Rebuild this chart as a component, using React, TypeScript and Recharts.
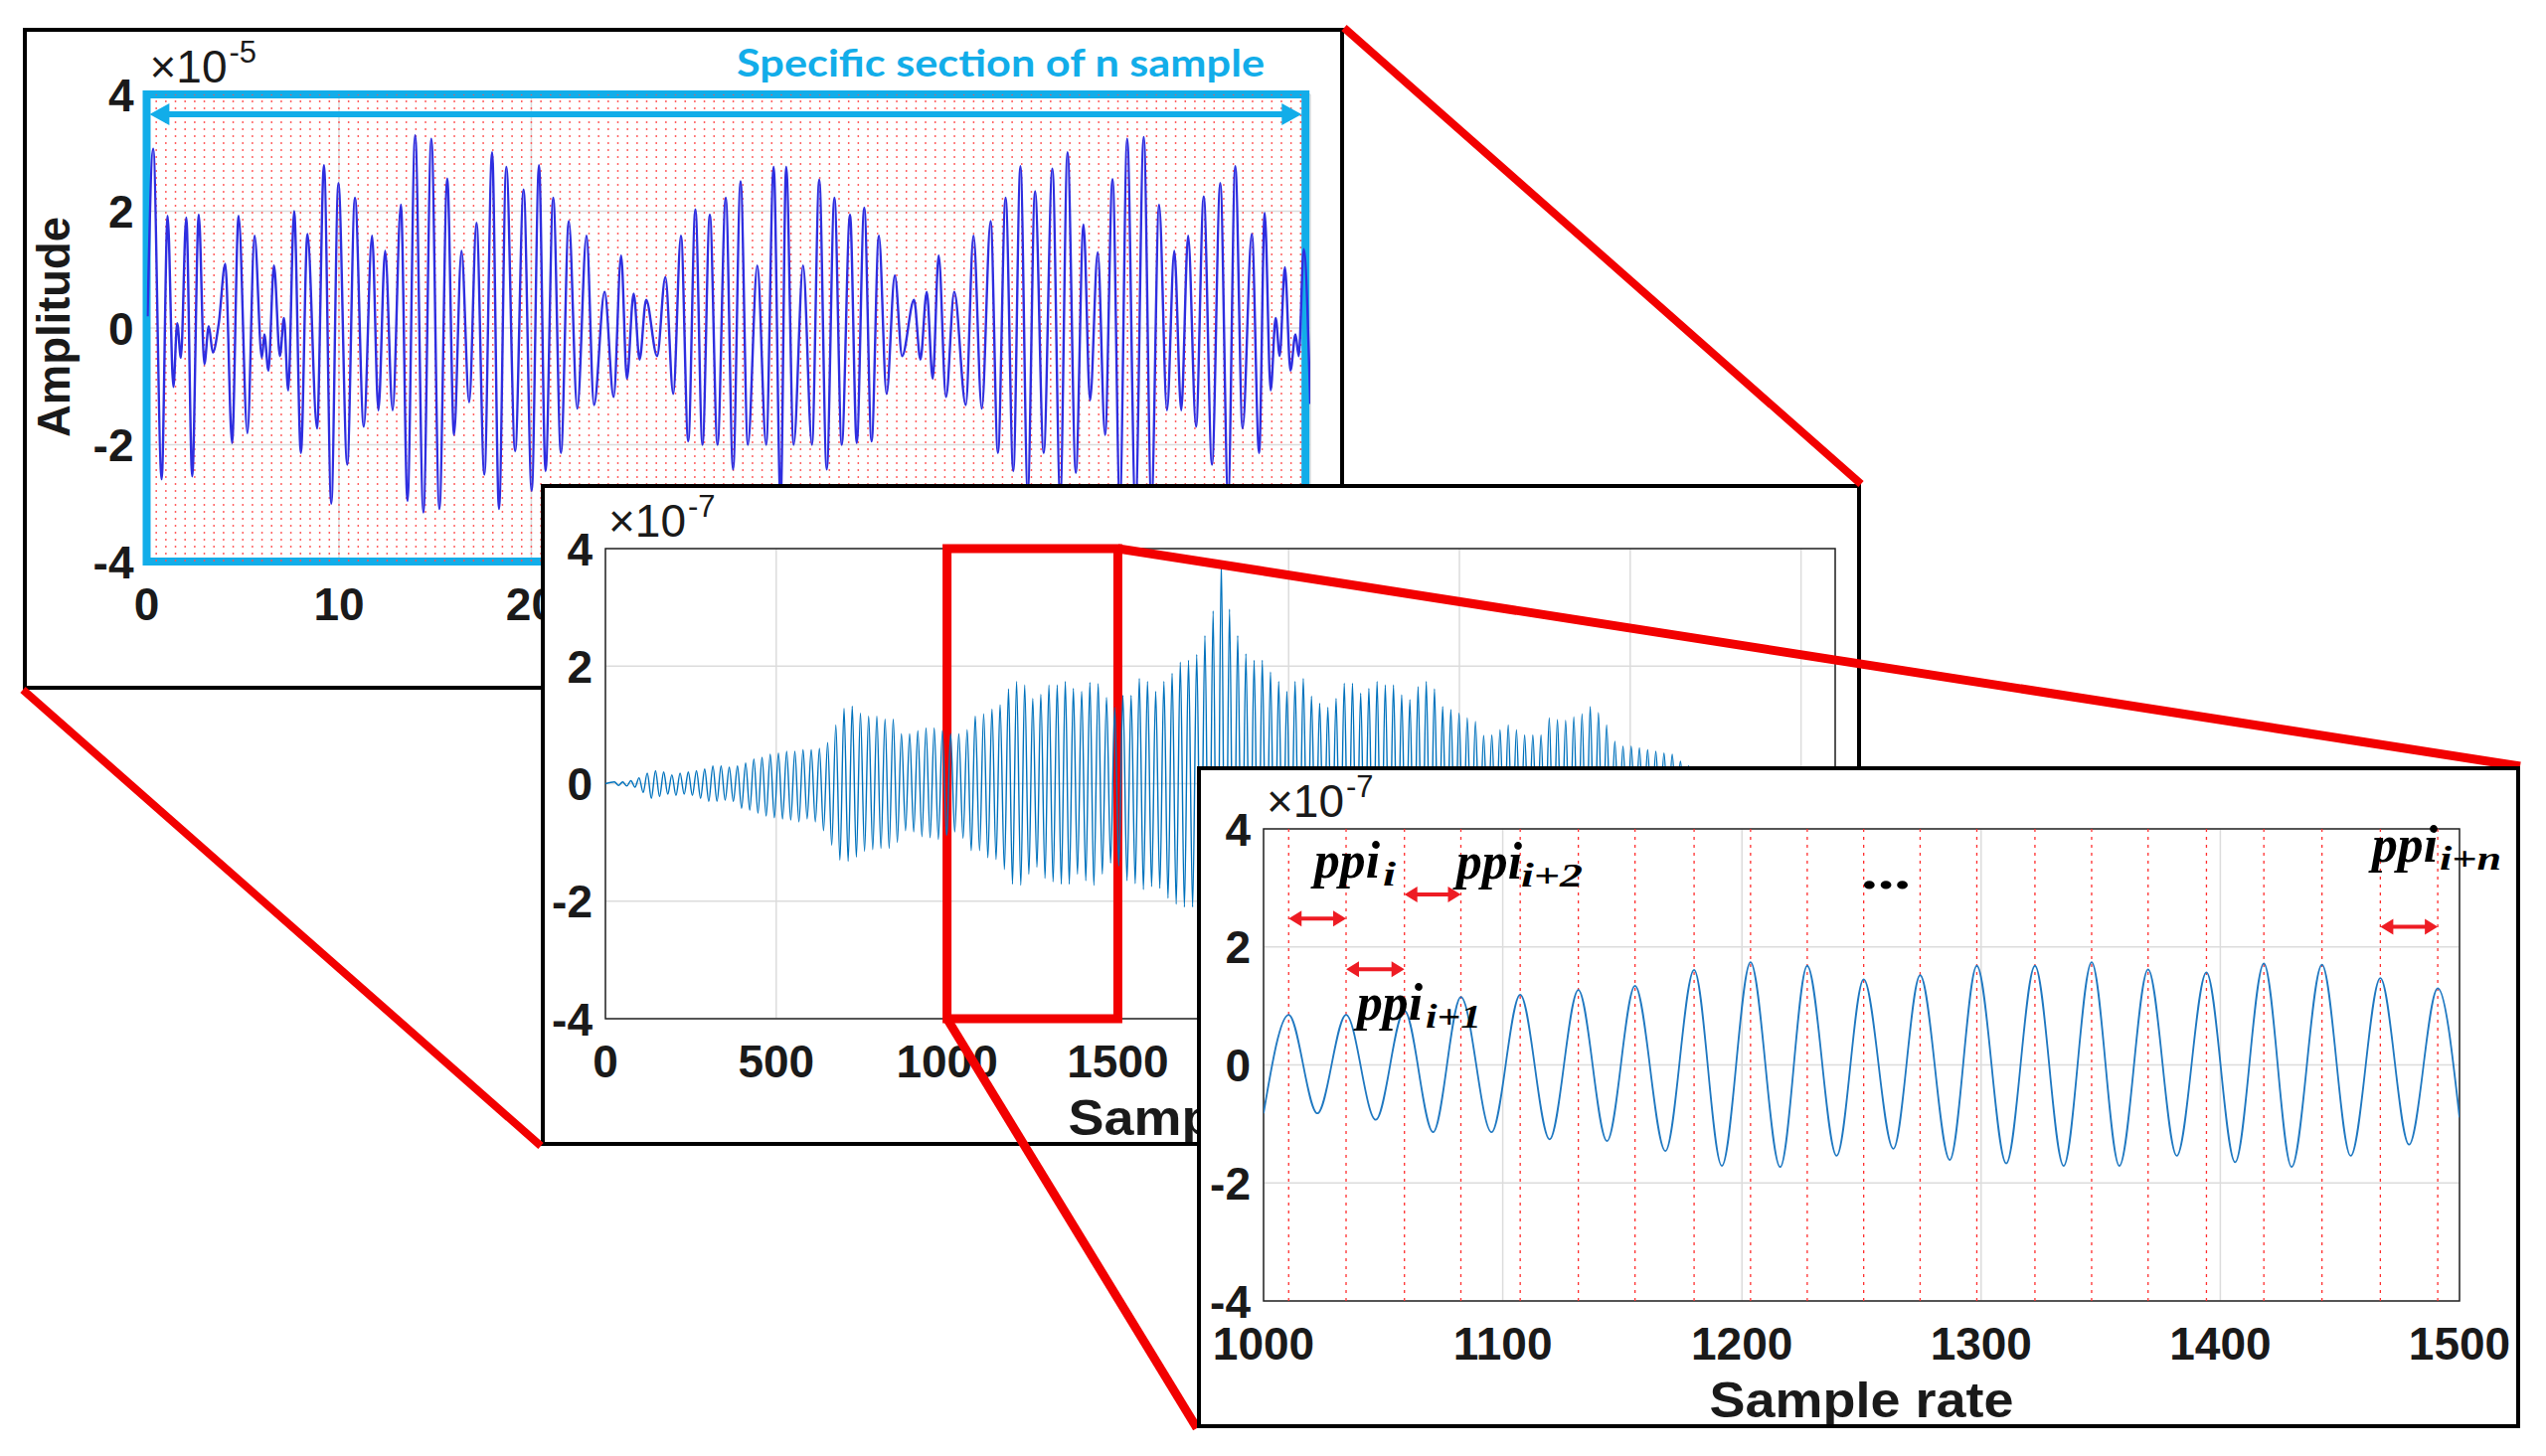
import React from 'react';
import { LineChart, Line, XAxis, YAxis, CartesianGrid, ReferenceLine, ReferenceArea } from 'recharts';

const SANS = '"Liberation Sans", Arial, Helvetica, sans-serif';
const SERIF = '"Liberation Serif", "Times New Roman", serif';
const INK = '#1a1a1a';
const GRID = '#dcdcdc';
const RED = '#f20000';
const CYAN = '#12ade9';
const TICK_FS = 46;

const AMP_TICKS = [-4, -2, 0, 2, 4];

// ---- specific section of n sample (x10^-5)
const SEC_X = [
  0.05, 0.34, 0.78, 1.09, 1.39, 1.59, 1.78, 2.06, 2.37, 2.71,
  3.0, 3.23, 3.44, 3.75, 4.09, 4.44, 4.78, 5.24, 5.61, 5.99,
  6.12, 6.33, 6.62, 6.93, 7.14, 7.36, 7.67, 8.02, 8.36, 8.86,
  9.22, 9.6, 9.97, 10.43, 10.83, 11.29, 11.72, 12.05, 12.4, 12.79,
  13.22, 13.56, 13.96, 14.39, 14.8, 15.22, 15.63, 15.98, 16.37, 16.77,
  17.15, 17.56, 17.96, 18.32, 18.7, 19.16, 19.6, 20.02, 20.4, 20.74,
  21.14, 21.54, 21.95, 22.39, 22.87, 23.26, 23.81, 24.28, 24.67, 24.97,
  25.32, 25.63, 25.97, 26.54, 26.97, 27.38, 27.78, 28.16, 28.53, 28.9,
  29.28, 29.68, 30.11, 30.49, 30.88, 31.26, 31.75, 32.21, 32.6, 32.96,
  33.25, 33.64, 34.13, 34.59, 34.97, 35.36, 35.76, 36.14, 36.57, 36.92,
  37.31, 37.69, 38.07, 38.47, 38.9, 39.28, 39.9, 40.23, 40.56, 40.87,
  41.18, 41.56, 41.99, 42.59, 42.99, 43.42, 43.88, 44.26, 44.66, 45.06,
  45.43, 45.81, 46.19, 46.64, 47.09, 47.5, 47.88, 48.31, 48.71, 49.05,
  49.45, 49.83, 50.22, 50.6, 50.98, 51.41, 51.84, 52.24, 52.64, 53.05,
  53.43, 53.79, 54.15, 54.56, 54.96, 55.39, 55.82, 56.23, 56.6, 56.98,
  57.46, 57.84, 58.13, 58.44, 58.7, 58.91, 59.18, 59.47, 59.73, 59.9,
  60.16, 60.5,
];
const SEC_Y = [
  0.2, 3.07, -2.59, 1.92, -1.01, 0.08, -0.51, 1.89, -2.54, 1.94,
  -0.62, 0.03, -0.42, 0.08, 1.1, -1.97, 1.92, -1.8, 1.58, -0.51,
  -0.11, -0.73, 1.07, -0.48, 0.17, -1.07, 2.0, -2.14, 1.61, -1.72,
  2.79, -3.01, 2.48, -2.34, 2.23, -1.69, 1.58, -1.41, 1.32, -1.41,
  2.11, -2.96, 3.3, -3.16, 3.24, -3.1, 2.56, -1.83, 1.32, -1.27,
  1.8, -2.51, 3.01, -3.1, 2.76, -2.11, 2.37, -2.79, 2.79, -2.45,
  2.23, -2.14, 1.83, -1.38, 1.58, -1.32, 0.62, -1.18, 1.24, -0.87,
  0.59, -0.54, 0.48, -0.48, 0.87, -1.13, 1.58, -1.94, 2.03, -2.0,
  1.94, -2.0, 2.23, -2.42, 2.51, -2.0, 1.07, -2.0, 2.76, -3.0,
  2.76, -2.0, 1.07, -2.0, 2.54, -2.42, 2.23, -2.0, 1.94, -1.97,
  2.06, -1.94, 1.58, -1.13, 0.9, -0.48, 0.48, -0.54, 0.62, -0.87,
  1.24, -1.18, 0.62, -1.32, 1.58, -1.38, 1.83, -2.14, 2.23, -2.45,
  2.77, -2.8, 2.34, -2.14, 2.73, -2.9, 3.01, -2.48, 1.77, -1.24,
  1.3, -1.83, 2.55, -3.0, 3.24, -3.1, 3.27, -3.0, 2.11, -1.41,
  1.32, -1.41, 1.58, -1.69, 2.25, -2.34, 2.48, -2.9, 2.77, -1.72,
  1.61, -2.14, 1.97, -1.07, 0.17, -0.48, 1.04, -0.73, -0.11, -0.48,
  1.35, -1.3,
];
// 30..60 sit under the second panel, only the first ones show
const SEC_TICKS = [0, 10, 20];
const SEC_MARK_STEP = 0.5; // red dotted sample markers

// ---- whole record (x10^-7), one cycle every ~24 samples
const REC_PERIOD = 24;
const REC_EARLY_PEAK0 = 26.5;
const REC_EARLY_PEAKS = [
  0.03, 0.03, 0.05, 0.1, 0.18, 0.22, 0.2, 0.15, 0.18, 0.2,
  0.22, 0.25, 0.3, 0.3, 0.28, 0.3, 0.35, 0.42, 0.45, 0.5,
  0.52, 0.55, 0.55, 0.58, 0.58, 0.6, 0.7, 1.0, 1.28, 1.32,
  1.2, 1.15, 1.15, 1.1, 1.1, 0.85, 0.85, 0.9, 0.95, 0.95,
  0.9,
];
const REC_EARLY_TROUGH0 = 38.5;
const REC_EARLY_TROUGHS = [
  -0.03, -0.04, -0.06, -0.15, -0.25, -0.22, -0.18, -0.2, -0.18, -0.2,
  -0.25, -0.3, -0.3, -0.28, -0.3, -0.42, -0.45, -0.5, -0.55, -0.58,
  -0.6, -0.62, -0.65, -0.6, -0.65, -0.8, -1.05, -1.3, -1.32, -1.25,
  -1.15, -1.12, -1.1, -1.1, -1.0, -0.8, -0.82, -0.9, -0.92, -0.95,
  -0.88,
];
const REC_LATE_TROUGH0 = 1502.9;
const REC_LATE_TROUGHS = [
  -1.4, -1.65, -1.7, -1.8, -1.75, -1.78, -1.95, -2.05, -2.1, -2.1,
  -2.3, -2.7, -3.3, -3.3, -2.7, -2.3, -2.1, -2.05, -1.95, -1.8,
  -1.6, -1.65, -1.75, -1.6, -1.4, -1.3, -1.4, -1.6, -1.7, -1.6,
  -1.58, -1.7, -1.7, -1.66, -1.58, -1.45, -1.55, -1.7, -1.65, -1.45,
  -1.28, -1.22, -1.15, -1.08, -0.95, -0.82, -0.88, -0.96, -0.96, -0.88,
  -0.83, -0.83, -0.98, -1.1, -1.08, -1.1, -1.16, -1.25, -1.26, -1.1,
  -0.85, -0.68, -0.64, -0.62, -0.6, -0.56, -0.53, -0.51, -0.44, -0.34,
  -0.28, -0.22, -0.18, -0.14, -0.11, -0.09, -0.07, -0.05, -0.04, -0.03,
  -0.03, -0.02, -0.02, -0.02, -0.01, -0.01, -0.01, -0.01,
];
const REC_LATE_PEAK0 = 1514.9;
const REC_LATE_PEAKS = [
  1.5, 1.5, 1.79, 1.74, 1.57, 1.74, 1.88, 2.07, 2.1, 2.2,
  2.52, 2.94, 3.78, 2.97, 2.52, 2.21, 2.1, 2.1, 1.9, 1.74,
  1.57, 1.74, 1.79, 1.49, 1.37, 1.3, 1.45, 1.71, 1.71, 1.54,
  1.62, 1.74, 1.68, 1.68, 1.51, 1.43, 1.65, 1.74, 1.61, 1.31,
  1.26, 1.2, 1.12, 1.06, 0.82, 0.83, 0.92, 1.0, 0.92, 0.83,
  0.83, 0.83, 1.12, 1.09, 1.08, 1.14, 1.19, 1.31, 1.21, 1.0,
  0.72, 0.64, 0.64, 0.61, 0.58, 0.55, 0.52, 0.5, 0.38, 0.3,
  0.25, 0.2, 0.16, 0.12, 0.1, 0.08, 0.06, 0.05, 0.04, 0.03,
  0.03, 0.02, 0.02, 0.02, 0.01, 0.01, 0.01,
];
const REC_TICKS = [0, 500, 1000, 1500, 2000, 2500, 3000, 3500];

// ---- zoom 1000..1500 (x10^-7), extrema of the waveform
const ZOOM_X = [
  1000, 1010.5, 1022.5, 1034.5, 1046.9, 1058.9, 1070.9, 1082.5, 1095.3, 1107.3,
  1119.6, 1131.6, 1143.6, 1155.3, 1168, 1180, 1191.6, 1203.6, 1216, 1227.3,
  1239.6, 1250.9, 1263.3, 1274.5, 1286.9, 1298.2, 1310.5, 1322.5, 1334.5, 1346.2,
  1357.8, 1369.8, 1381.8, 1394.2, 1406.2, 1418.2, 1429.8, 1442.5, 1454.5, 1466.9,
  1478.9, 1490.9, 1500,
];
const ZOOM_Y = [
  -0.82, 0.85, -0.82, 0.85, -0.93, 0.92, -1.14, 1.15, -1.14, 1.19,
  -1.26, 1.27, -1.29, 1.34, -1.46, 1.61, -1.71, 1.74, -1.73, 1.68,
  -1.54, 1.45, -1.42, 1.52, -1.61, 1.68, -1.67, 1.68, -1.71, 1.74,
  -1.71, 1.62, -1.54, 1.57, -1.65, 1.72, -1.73, 1.7, -1.54, 1.47,
  -1.35, 1.3, -0.89,
];
const ZOOM_TICKS = [1000, 1100, 1200, 1300, 1400, 1500];
const PPI_START = [0, 1, 2, 19]; // index of the peak where each arrow starts
const PPI_LEVEL = [2.48, 1.62, 2.89, 2.34];

const xy = (xs: number[], ys: number[]) => xs.map((x, i) => ({ x, y: ys[i] }));
const spaced = (x0: number, ys: number[]) => ys.map((y, i) => ({ x: x0 + i * REC_PERIOD, y }));

const secData = xy(SEC_X, SEC_Y);
const zoomData = xy(ZOOM_X, ZOOM_Y);
const recData = [
  { x: 0, y: 0 },
  ...spaced(REC_EARLY_PEAK0, REC_EARLY_PEAKS),
  ...spaced(REC_EARLY_TROUGH0, REC_EARLY_TROUGHS),
  ...zoomData,
  ...spaced(REC_LATE_TROUGH0, REC_LATE_TROUGHS),
  ...spaced(REC_LATE_PEAK0, REC_LATE_PEAKS),
].sort((a, b) => a.x - b.x);

const peakX = ZOOM_X.filter((_, i) => ZOOM_Y[i] > 0);
const secMarks = Array.from({ length: Math.floor(60.2 / SEC_MARK_STEP) }, (_, i) => (i + 1) * SEC_MARK_STEP);

type Spec = { left: number; top: number; width: number; height: number; pl: number; pt: number; pr: number; pb: number };
const P1: Spec = { left: 23, top: 28, width: 1329, height: 666, pl: 124.5, pt: 67, pr: 1295, pb: 537 };
const P2: Spec = { left: 544, top: 487, width: 1328, height: 666, pl: 65, pt: 65, pr: 1302, pb: 538 };
const P3: Spec = { left: 1204, top: 771, width: 1331, height: 666, pl: 67, pt: 63, pr: 1270, pb: 538 };

function XTick(props: any) {
  const { x, y, payload } = props;
  return (
    <text x={x} y={y + 59} textAnchor="middle" fontFamily={SANS} fontWeight={700} fontSize={TICK_FS} fill={INK}>
      {payload.value}
    </text>
  );
}

function YTick(props: any) {
  const { x, y, payload } = props;
  return (
    <text x={x - 13} y={y + 16.5} textAnchor="end" fontFamily={SANS} fontWeight={700} fontSize={TICK_FS} fill={INK}>
      {payload.value}
    </text>
  );
}

const doubleArrow = (color: string, w: number, head: number, half: number) => (p: any) => {
  const a = Math.min(p.x1, p.x2);
  const b = Math.max(p.x1, p.x2);
  const y = p.y1;
  return (
    <g>
      <line x1={a + head * 0.8} y1={y} x2={b - head * 0.8} y2={y} stroke={color} strokeWidth={w} />
      <path d={`M${a},${y} L${a + head},${y - half} L${a + head},${y + half} Z`} fill={color} />
      <path d={`M${b},${y} L${b - head},${y - half} L${b - head},${y + half} Z`} fill={color} />
    </g>
  );
};

function Frame({ spec, z, children }: { spec: Spec; z: number; children: React.ReactNode }) {
  return (
    <div style={{ position: 'absolute', left: spec.left, top: spec.top, width: spec.width, height: spec.height, background: '#fff', zIndex: z }}>
      {children}
      <div style={{ position: 'absolute', inset: 0, border: '4px solid #000', boxSizing: 'border-box', pointerEvents: 'none' }} />
    </div>
  );
}

function Chart({ spec, data, domain, ticks, children }: { spec: Spec; data: any[]; domain: number[]; ticks: number[]; children: React.ReactNode }) {
  return (
    <div style={{ position: 'absolute', left: 0, top: 0 }}>
      <LineChart width={spec.width} height={spec.height} data={data}
        margin={{ top: spec.pt, right: spec.width - spec.pr, bottom: spec.height - spec.pb - 1, left: spec.pl - 1 }}>
        <CartesianGrid stroke={GRID} strokeWidth={1.5} />
        <XAxis type="number" dataKey="x" domain={domain} ticks={ticks} interval={0} allowDataOverflow height={1}
          tickSize={0} tickMargin={0} tickLine={false} axisLine={false} tick={(p: any) => <XTick {...p} />} />
        <YAxis type="number" dataKey="y" domain={[-4, 4]} ticks={AMP_TICKS} interval={0} allowDataOverflow width={1}
          tickSize={0} tickMargin={0} tickLine={false} axisLine={false} tick={(p: any) => <YTick {...p} />} />
        {children}
      </LineChart>
    </div>
  );
}

function Exponent({ spec, power }: { spec: Spec; power: string }) {
  const x = spec.pl + 3;
  const y = spec.pt - 12;
  return (
    <g fontFamily={SANS} fill={INK}>
      <text x={x} y={y} fontSize={TICK_FS}>×10</text>
      <text x={x + 80} y={y - 20} fontSize={31}>{power}</text>
    </g>
  );
}

function Ppi({ x, y, sub, subX, subW }: { x: number; y: number; sub: string; subX: number; subW: number }) {
  return (
    <g fontFamily={SERIF} fontWeight={700} fontStyle="italic" fill="#000">
      <text x={x} y={y} fontSize={52} textLength={66} lengthAdjust="spacingAndGlyphs">ppi</text>
      <text x={subX} y={y + 8} fontSize={34} textLength={subW} lengthAdjust="spacingAndGlyphs">{sub}</text>
    </g>
  );
}

function Overlay({ spec, children }: { spec: Spec; children: React.ReactNode }) {
  return (
    <svg width={spec.width} height={spec.height} style={{ position: 'absolute', left: 0, top: 0, pointerEvents: 'none' }}>
      {children}
    </svg>
  );
}

const xAt = (spec: Spec, v: number, d0: number, d1: number) => spec.left + spec.pl + ((v - d0) / (d1 - d0)) * (spec.pr - spec.pl);

export default function App() {
  const boxL = xAt(P2, ZOOM_TICKS[0], 0, 3600);
  const boxR = xAt(P2, ZOOM_TICKS[ZOOM_TICKS.length - 1], 0, 3600);
  return (
    <div style={{ position: 'absolute', left: 0, top: 0, width: 2561, height: 1465, background: '#fff', overflow: 'hidden' }}>
      {/* specific section */}
      <Frame spec={P1} z={1}>
        <Chart spec={P1} data={secData} domain={[0, 60.5]} ticks={SEC_TICKS}>
          {secMarks.map((m) => (
            <ReferenceLine key={m} x={m} stroke="#ff5050" strokeWidth={1.5} strokeDasharray="2 5" strokeOpacity={0.9} />
          ))}
          <Line type="monotone" dataKey="y" stroke="#2e2ee0" strokeWidth={2.4} dot={false} activeDot={false} isAnimationActive={false} />
          <ReferenceArea x1={0} x2={60.25} y1={-4} y2={4} fill="none" stroke={CYAN} strokeWidth={8} />
          <ReferenceLine segment={[{ x: 0.15, y: 3.66 }, { x: 60.05, y: 3.66 }]} shape={doubleArrow(CYAN, 6, 20, 11)} />
        </Chart>
        <Overlay spec={P1}>
          <Exponent spec={P1} power="-5" />
          <text x={31} y={301} transform="rotate(-90 31 301)" textAnchor="middle" dy="0.35em" fontFamily={SANS}
            fontWeight={700} fontSize={46} textLength={222} lengthAdjust="spacingAndGlyphs" fill={INK}>Amplitude</text>
          <text x={718} y={49} fontFamily='Lato, "Open Sans", sans-serif' fontWeight={700} fontSize={38}
            textLength={531} lengthAdjust="spacingAndGlyphs" fill={CYAN}>Specific section of n sample</text>
        </Overlay>
      </Frame>

      {/* whole record */}
      <Frame spec={P2} z={2}>
        <Chart spec={P2} data={recData} domain={[0, 3600]} ticks={REC_TICKS}>
          <Line type="monotone" dataKey="y" stroke="#0072bd" strokeWidth={1.4} dot={false} activeDot={false} isAnimationActive={false} />
          <ReferenceArea x1={0} x2={3600} y1={-4} y2={4} fill="none" stroke="#262626" strokeWidth={1.5} />
          <ReferenceArea x1={ZOOM_TICKS[0]} x2={ZOOM_TICKS[ZOOM_TICKS.length - 1]} y1={-4} y2={4} fill="none" stroke={RED} strokeWidth={9} />
        </Chart>
        <Overlay spec={P2}>
          <Exponent spec={P2} power="-7" />
          <text x={(P2.pl + P2.pr) / 2} y={655} textAnchor="middle" fontFamily={SANS} fontWeight={700} fontSize={50}
            textLength={306} lengthAdjust="spacingAndGlyphs" fill={INK}>Sample rate</text>
        </Overlay>
      </Frame>

      {/* zoom connectors */}
      <svg width={2561} height={1465} style={{ position: 'absolute', left: 0, top: 0, zIndex: 3, pointerEvents: 'none' }}>
        <g stroke={RED} strokeWidth={8}>
          <line x1={P1.left} y1={P1.top + P1.height} x2={P2.left} y2={P2.top + P2.height} />
          <line x1={P1.left + P1.width} y1={P1.top} x2={P2.left + P2.width} y2={P2.top} />
          <line x1={boxR} y1={P2.top + P2.pt} x2={P3.left + P3.width} y2={P3.top} strokeWidth={9} />
          <line x1={boxL} y1={P2.top + P2.pb} x2={P3.left} y2={P3.top + P3.height} strokeWidth={9} />
        </g>
      </svg>

      {/* zoom 1000..1500 */}
      <Frame spec={P3} z={4}>
        <Chart spec={P3} data={zoomData} domain={[1000, 1500]} ticks={ZOOM_TICKS}>
          {peakX.map((m) => (
            <ReferenceLine key={m} x={m} stroke="#ff3030" strokeWidth={1.3} strokeDasharray="3 5" />
          ))}
          <Line type="monotone" dataKey="y" stroke="#1f78c1" strokeWidth={1.8} dot={false} activeDot={false} isAnimationActive={false} />
          <ReferenceArea x1={1000} x2={1500} y1={-4} y2={4} fill="none" stroke="#262626" strokeWidth={1.5} />
          {PPI_START.map((s, i) => (
            <ReferenceLine key={`ppi${s}`} segment={[{ x: peakX[s], y: PPI_LEVEL[i] }, { x: peakX[s + 1], y: PPI_LEVEL[i] }]}
              shape={doubleArrow('#ee1c24', 4, 13, 8)} />
          ))}
        </Chart>
        <Overlay spec={P3}>
          <Exponent spec={P3} power="-7" />
          <Ppi x={118} y={112} sub="i" subX={187} subW={13} />
          <Ppi x={261} y={113} sub="i+2" subX={326} subW={62} />
          <Ppi x={161} y={255} sub="i+1" subX={230} subW={56} />
          <Ppi x={1182} y={96} sub="i+n" subX={1250} subW={62} />
          <text x={668} y={123} fontFamily={SERIF} fontWeight={700} fontSize={50} textLength={50}
            lengthAdjust="spacingAndGlyphs" fill="#000">...</text>
          <text x={(P3.pl + P3.pr) / 2} y={655} textAnchor="middle" fontFamily={SANS} fontWeight={700} fontSize={50}
            textLength={306} lengthAdjust="spacingAndGlyphs" fill={INK}>Sample rate</text>
        </Overlay>
      </Frame>
    </div>
  );
}
